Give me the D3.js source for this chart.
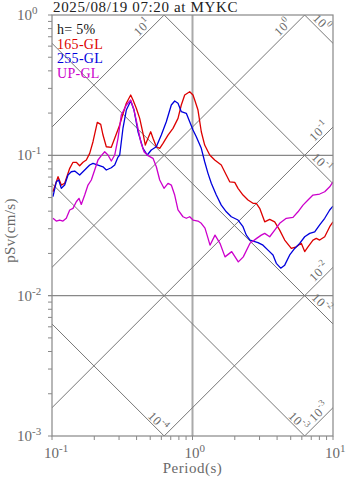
<!DOCTYPE html>
<html><head><meta charset="utf-8">
<script src="https://cdn.jsdelivr.net/npm/d3@7"></script>
<style>body{margin:0;background:#fff} svg{display:block}</style>
</head><body><svg id="c" width="347" height="478"></svg>
<script>
const title = "2025/08/19 07:20 at MYKC";
const dampingLabel = "h= 5%";
const seriesNames = ["165-GL", "255-GL", "UP-GL"];
const seriesColors = ["#dd0000", "#0000dd", "#cc00cc"];

const periods165 = [0.1016,0.1104,0.1165,0.1231,0.1337,0.1411,0.1489,0.1574,0.1662,0.1755,0.1855,0.1958,0.2101,0.2222,0.2307,0.2435,0.2643,0.2795,0.3033,0.3149,0.3380,0.3632,0.3772,0.3981,0.4209,0.4443,0.4614,0.4823,0.5041,0.5236,0.5527,0.5843,0.6166,0.6694,0.7265,0.7885,0.8323,0.8800,0.9552,1.008,1.037,1.094,1.155,1.221,1.326,1.439,1.603,1.740,1.840,1.998,2.108,2.288,2.483,2.695,2.845,3.008,3.265,3.544,3.846,4.174,4.531,5.049,5.480,5.948,6.288,6.637,7.204,7.604,8.040,8.730,9.475,10.0];
const sv165 = [0.0550,0.0704,0.0614,0.0632,0.0808,0.0892,0.0892,0.0843,0.0892,0.0926,0.1033,0.1250,0.1719,0.1663,0.1395,0.1151,0.1140,0.1322,0.1644,0.1875,0.2348,0.2690,0.2479,0.2163,0.1835,0.1435,0.1184,0.1322,0.1473,0.1322,0.1151,0.1122,0.1218,0.1395,0.1557,0.1835,0.2283,0.2690,0.2840,0.2690,0.2479,0.2103,0.1473,0.1184,0.1005,0.0926,0.0853,0.0724,0.0648,0.0642,0.0582,0.0521,0.0480,0.0455,0.0455,0.0419,0.0336,0.0350,0.0336,0.0293,0.0249,0.0217,0.0223,0.0236,0.0206,0.0223,0.0249,0.0256,0.0249,0.0263,0.0310,0.0336];

const periods255 = [0.1016,0.1073,0.1116,0.1165,0.1231,0.1300,0.1372,0.1451,0.1574,0.1709,0.1855,0.1958,0.2125,0.2307,0.2435,0.2643,0.2795,0.2950,0.3033,0.3201,0.3380,0.3632,0.3835,0.4094,0.4443,0.4768,0.5089,0.5527,0.5997,0.6509,0.7066,0.7469,0.7885,0.8323,0.9034,0.9552,1.008,1.064,1.155,1.221,1.289,1.361,1.477,1.603,1.740,1.889,2.108,2.288,2.415,2.566,2.925,3.175,3.446,3.741,3.949,4.244,4.531,4.919,5.339,5.794,6.288,6.826,7.409,8.040,8.730,9.475,10.0];
const sv255 = [0.0507,0.0648,0.0667,0.0582,0.0614,0.0724,0.0764,0.0773,0.0724,0.0786,0.0853,0.0877,0.0853,0.0829,0.0786,0.0816,0.0853,0.0972,0.1005,0.1565,0.2103,0.2438,0.2103,0.1473,0.1122,0.1005,0.1091,0.1151,0.1395,0.1736,0.2283,0.2438,0.2348,0.2046,0.1993,0.1736,0.1514,0.1357,0.1122,0.0900,0.0744,0.0632,0.0521,0.0442,0.0396,0.0365,0.0346,0.0310,0.0270,0.0249,0.0239,0.0229,0.0211,0.0195,0.0170,0.0157,0.0165,0.0195,0.0217,0.0236,0.0263,0.0278,0.0285,0.0319,0.0356,0.0408,0.0435];

const periodsUP = [0.1016,0.1073,0.1134,0.1197,0.1264,0.1337,0.1411,0.1489,0.1556,0.1616,0.1709,0.1804,0.1905,0.2013,0.2125,0.2244,0.2372,0.2503,0.2643,0.2795,0.2950,0.3113,0.3380,0.3632,0.3835,0.4047,0.4279,0.4518,0.4823,0.5236,0.5527,0.5843,0.6269,0.6694,0.7066,0.7469,0.7885,0.8557,0.9034,0.9552,1.008,1.094,1.155,1.227,1.289,1.332,1.446,1.569,1.703,1.901,2.118,2.299,2.566,2.878,3.087,3.265,3.544,3.846,4.174,4.651,5.191,5.636,6.117,6.637,7.204,8.040,8.730,9.475,10.0];
const svUP = [0.0356,0.0340,0.0346,0.0340,0.0356,0.0408,0.0419,0.0467,0.0494,0.0447,0.0521,0.0614,0.0667,0.0786,0.0926,0.0994,0.1061,0.1005,0.0911,0.1005,0.1322,0.1937,0.2283,0.2479,0.2103,0.1644,0.1250,0.1061,0.0994,0.0952,0.0829,0.0667,0.0582,0.0632,0.0614,0.0521,0.0408,0.0365,0.0356,0.0365,0.0346,0.0340,0.0328,0.0303,0.0257,0.0229,0.0270,0.0236,0.0189,0.0206,0.0174,0.0189,0.0236,0.0257,0.0270,0.0278,0.0263,0.0293,0.0328,0.0356,0.0361,0.0396,0.0442,0.0480,0.0521,0.0530,0.0550,0.0597,0.0648];

const xTicks = [0.1, 1, 10];
const yTicks = [1, 0.1, 0.01, 0.001];
const gridPeriods = [1];
const gridSv = [0.1, 0.01];
const accelLines = [10, 1, 0.1, 0.01, 0.001];      // cm/s^2
const dispLines = [1, 0.1, 0.01, 0.001, 0.0001];   // cm
const xLabel = "Period(s)";
const yLabel = "pSv(cm/s)";

const series = [
  {name: seriesNames[0], color: seriesColors[0], T: periods165, v: sv165},
  {name: seriesNames[1], color: seriesColors[1], T: periods255, v: sv255},
  {name: seriesNames[2], color: seriesColors[2], T: periodsUP, v: svUP}
];

const W = 347, H = 478, m = {l: 52, r: 14, t: 15, b: 42};
const FONT = "'Liberation Serif','DejaVu Serif',serif";
const GRAY = "#6a6a6a";
const svg = d3.select("#c");
const x = d3.scaleLog().domain([0.1, 10]).range([m.l, W - m.r]);
const y = d3.scaleLog().domain([0.001, 1]).range([H - m.b, m.t]);
const x0 = x.range()[0], x1 = x.range()[1], yb = y.range()[0], yt = y.range()[1];

svg.append("defs").append("clipPath").attr("id", "clip")
  .append("rect").attr("x", x0).attr("y", yt).attr("width", x1 - x0).attr("height", yb - yt);
const plot = svg.append("g").attr("clip-path", "url(#clip)");

// grid
gridPeriods.forEach(t => plot.append("line").attr("x1", x(t)).attr("x2", x(t)).attr("y1", yt).attr("y2", yb)
  .attr("stroke", "#aaa").attr("stroke-width", 2));
gridSv.forEach(s => plot.append("line").attr("x1", x0).attr("x2", x1).attr("y1", y(s)).attr("y2", y(s))
  .attr("stroke", "#888").attr("stroke-width", 1.2));

const TWO_PI = 2 * Math.PI;
const diagLine = d3.line().x(d => x(d[0])).y(d => y(d[1]));
accelLines.forEach(a => {
  const pts = [0.01, 100].map(t => [t, a * t / TWO_PI]);
  plot.append("path").attr("d", diagLine(pts)).attr("fill", "none").attr("stroke", "#777").attr("stroke-width", 1);
});
dispLines.forEach(dv => {
  const pts = [0.01, 100].map(t => [t, TWO_PI * dv / t]);
  plot.append("path").attr("d", diagLine(pts)).attr("fill", "none").attr("stroke", "#777").attr("stroke-width", 1);
});

function powLabel(g, cx, cy, exp, rot, size) {
  const t = g.append("text").attr("transform", `translate(${cx},${cy}) rotate(${rot})`)
    .attr("text-anchor", "middle").attr("dominant-baseline", "middle")
    .attr("font-family", FONT).attr("font-size", size).attr("fill", GRAY).attr("letter-spacing", 0.5);
  t.append("tspan").text("10");
  t.append("tspan").attr("dy", -size * 0.4).attr("font-size", size * 0.72).text(exp);
}

accelLines.forEach(a => {
  const tTop = TWO_PI / a;
  let cx = tTop <= 10 ? x(tTop) - 21 : x1 - 13;
  const T = x.invert(cx);
  const cy = y(a * T / TWO_PI) - 8;
  powLabel(svg, cx, cy, Math.round(Math.log10(a)), -45, 12.5);
});
dispLines.forEach(dv => {
  const tBot = TWO_PI * dv / 0.001;
  const bottom = tBot <= 10;
  let cx = bottom ? x(tBot) - 7 : x1 - 12;
  const T = x.invert(cx);
  const cy = y(TWO_PI * dv / T) - (bottom ? 6.5 : 8);
  powLabel(svg, cx, cy, Math.round(Math.log10(dv)), 45, 12.5);
});

// series
const line = d3.line().x(d => x(d[0])).y(d => y(d[1]));
series.forEach(s => {
  plot.append("path").datum(s.T.map((t, i) => [t, s.v[i]])).attr("d", line)
    .attr("fill", "none").attr("stroke", s.color).attr("stroke-width", 1.3).attr("stroke-linejoin", "round");
});

// frame
svg.append("rect").attr("x", x0).attr("y", yt).attr("width", x1 - x0).attr("height", yb - yt)
  .attr("fill", "none").attr("stroke", "#888").attr("stroke-width", 1.2);

// ticks
const ax = svg.append("g").attr("stroke", "#888").attr("stroke-width", 1);
for (let e = -1; e < 1; e++) for (let k = 1; k <= 10; k++) {
  const t = k * Math.pow(10, e);
  ax.append("line").attr("x1", x(t)).attr("x2", x(t)).attr("y1", yb).attr("y2", yb + 4);
}
for (let e = -3; e < 0; e++) for (let k = 1; k <= 10; k++) {
  const s = k * Math.pow(10, e);
  ax.append("line").attr("x1", x0 - 4).attr("x2", x0).attr("y1", y(s)).attr("y2", y(s));
}

// tick labels
xTicks.forEach(t => {
  const g = svg.append("text").attr("x", x(t) - 8).attr("y", yb + 22)
    .attr("font-family", FONT).attr("font-size", 15).attr("fill", GRAY);
  g.append("tspan").text("10");
  g.append("tspan").attr("dy", -6).attr("font-size", 11).text(Math.round(Math.log10(t)));
});
yTicks.forEach(s => {
  const g = svg.append("text").attr("x", 17).attr("y", y(s) + 5)
    .attr("font-family", FONT).attr("font-size", 15).attr("fill", GRAY);
  g.append("tspan").text("10");
  g.append("tspan").attr("dy", -6).attr("font-size", 11).text(Math.round(Math.log10(s)));
});

svg.append("text").attr("x", x(1)).attr("y", 473).attr("text-anchor", "middle")
  .attr("font-family", FONT).attr("font-size", 15).attr("letter-spacing", 0.5).attr("fill", GRAY).text(xLabel);
svg.append("text").attr("transform", `translate(15,${(yt + yb) / 2 + 5}) rotate(-90)`).attr("text-anchor", "middle")
  .attr("font-family", FONT).attr("font-size", 15).attr("letter-spacing", 0.3).attr("fill", GRAY).text(yLabel);

svg.append("text").attr("x", 53).attr("y", 12).attr("font-family", FONT).attr("font-size", 15)
  .attr("letter-spacing", 0.65).attr("fill", "#222").text(title);

// legend
svg.append("text").attr("x", 57).attr("y", 34).attr("font-family", FONT).attr("font-size", 14)
  .attr("letter-spacing", 0.3).attr("fill", "#111").text(dampingLabel);
series.forEach((s, i) => svg.append("text").attr("x", 57).attr("y", 48.5 + i * 14.5)
  .attr("font-family", FONT).attr("font-size", 14).attr("letter-spacing", 0.3).attr("fill", s.color).text(s.name));
</script></body></html>
